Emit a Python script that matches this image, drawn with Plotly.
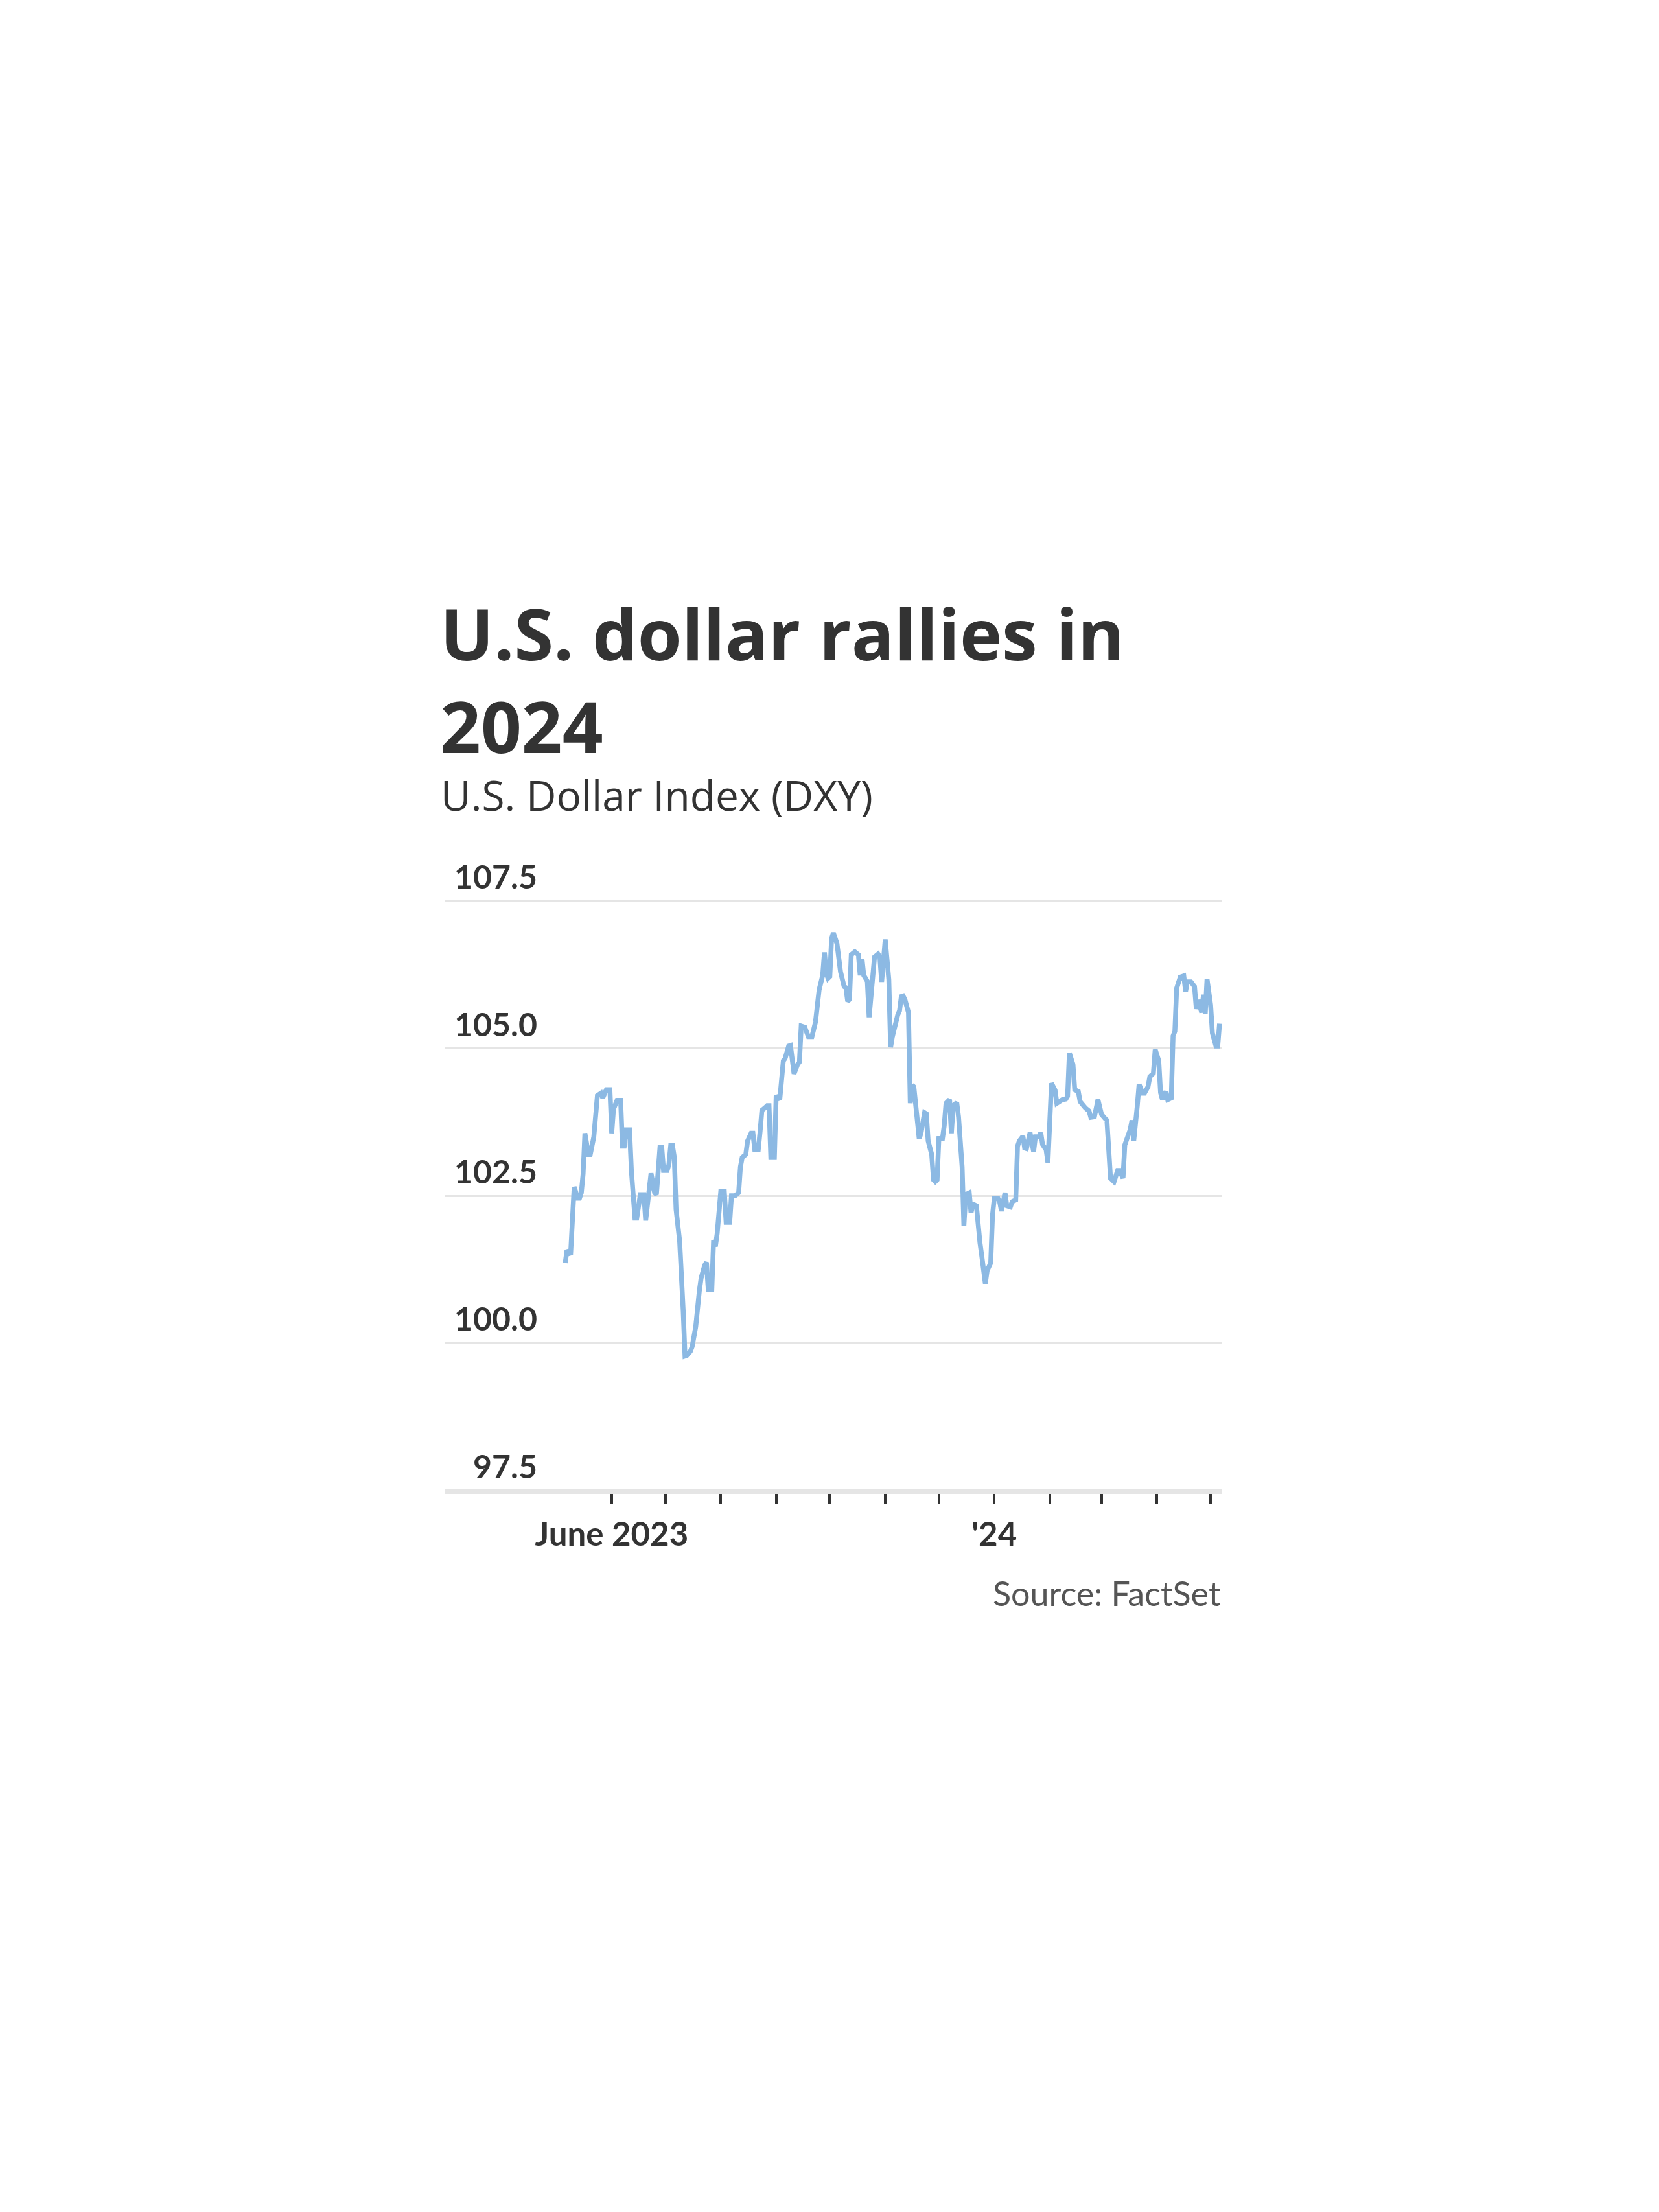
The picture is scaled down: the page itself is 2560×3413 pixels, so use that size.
import plotly.graph_objects as go

# ---- data ----
dates = [
    "2023-05-06", "2023-05-07", "2023-05-09", "2023-05-11", "2023-05-13", "2023-05-14",
    "2023-05-15", "2023-05-16", "2023-05-17", "2023-05-19", "2023-05-20", "2023-05-22",
    "2023-05-24", "2023-05-26", "2023-05-27", "2023-05-29", "2023-05-31", "2023-06-01",
    "2023-06-02", "2023-06-04", "2023-06-06", "2023-06-07", "2023-06-08", "2023-06-09",
    "2023-06-11", "2023-06-12", "2023-06-14", "2023-06-15", "2023-06-17", "2023-06-19",
    "2023-06-20", "2023-06-22", "2023-06-23", "2023-06-25", "2023-06-26", "2023-06-28",
    "2023-06-29", "2023-06-30", "2023-07-02", "2023-07-03", "2023-07-04", "2023-07-05",
    "2023-07-06", "2023-07-07", "2023-07-09", "2023-07-11", "2023-07-12", "2023-07-13",
    "2023-07-15", "2023-07-16", "2023-07-18", "2023-07-20", "2023-07-21", "2023-07-23",
    "2023-07-24", "2023-07-25", "2023-07-27", "2023-07-28", "2023-07-29", "2023-07-30",
    "2023-07-31", "2023-08-01", "2023-08-03", "2023-08-04", "2023-08-06", "2023-08-07",
    "2023-08-09", "2023-08-11", "2023-08-12", "2023-08-13", "2023-08-15", "2023-08-16",
    "2023-08-18", "2023-08-19", "2023-08-20", "2023-08-22", "2023-08-23", "2023-08-24",
    "2023-08-26", "2023-08-27", "2023-08-28", "2023-08-29", "2023-08-31", "2023-09-01",
    "2023-09-03", "2023-09-05", "2023-09-06", "2023-09-08", "2023-09-09", "2023-09-11",
    "2023-09-13", "2023-09-14", "2023-09-15", "2023-09-17", "2023-09-19", "2023-09-21",
    "2023-09-23", "2023-09-25", "2023-09-27", "2023-09-28", "2023-09-29", "2023-09-30",
    "2023-10-01", "2023-10-02", "2023-10-03", "2023-10-05", "2023-10-07", "2023-10-09",
    "2023-10-10", "2023-10-11", "2023-10-12", "2023-10-13", "2023-10-15", "2023-10-17",
    "2023-10-18", "2023-10-19", "2023-10-20", "2023-10-22", "2023-10-23", "2023-10-25",
    "2023-10-26", "2023-10-28", "2023-10-29", "2023-10-30", "2023-10-31", "2023-11-01",
    "2023-11-03", "2023-11-04", "2023-11-05", "2023-11-07", "2023-11-08", "2023-11-09",
    "2023-11-10", "2023-11-11", "2023-11-12", "2023-11-14", "2023-11-15", "2023-11-16",
    "2023-11-17", "2023-11-20", "2023-11-21", "2023-11-23", "2023-11-24", "2023-11-25",
    "2023-11-27", "2023-11-28", "2023-11-29", "2023-11-30", "2023-12-01", "2023-12-03",
    "2023-12-04", "2023-12-05", "2023-12-07", "2023-12-08", "2023-12-09", "2023-12-11",
    "2023-12-12", "2023-12-14", "2023-12-15", "2023-12-16", "2023-12-18", "2023-12-19",
    "2023-12-20", "2023-12-22", "2023-12-23", "2023-12-24", "2023-12-25", "2023-12-27",
    "2023-12-28", "2023-12-29", "2023-12-30", "2023-12-31", "2024-01-01", "2024-01-03",
    "2024-01-04", "2024-01-05", "2024-01-07", "2024-01-08", "2024-01-10", "2024-01-11",
    "2024-01-13", "2024-01-14", "2024-01-15", "2024-01-17", "2024-01-18", "2024-01-19",
    "2024-01-21", "2024-01-23", "2024-01-24", "2024-01-26", "2024-01-27", "2024-01-28",
    "2024-01-30", "2024-01-31", "2024-02-01", "2024-02-02", "2024-02-04", "2024-02-05",
    "2024-02-08", "2024-02-10", "2024-02-11", "2024-02-12", "2024-02-14", "2024-02-15",
    "2024-02-17", "2024-02-18", "2024-02-21", "2024-02-23", "2024-02-24", "2024-02-26",
    "2024-02-28", "2024-03-01", "2024-03-03", "2024-03-04", "2024-03-06", "2024-03-08",
    "2024-03-10", "2024-03-11", "2024-03-13", "2024-03-14", "2024-03-15", "2024-03-17",
    "2024-03-18", "2024-03-19", "2024-03-21", "2024-03-22", "2024-03-24", "2024-03-25",
    "2024-03-27", "2024-03-28", "2024-03-30", "2024-03-31", "2024-04-02", "2024-04-03",
    "2024-04-04", "2024-04-06", "2024-04-07", "2024-04-09", "2024-04-10", "2024-04-11",
    "2024-04-12", "2024-04-14", "2024-04-16", "2024-04-17", "2024-04-18", "2024-04-20",
    "2024-04-22", "2024-04-23", "2024-04-24", "2024-04-26", "2024-04-27", "2024-04-28",
    "2024-04-29", "2024-05-01", "2024-05-02", "2024-05-04", "2024-05-05", "2024-05-06",
]

dxy = [
    101.36, 101.58, 101.50, 102.65, 102.46, 102.46,
    102.55, 102.87, 103.56, 103.20, 103.20, 103.50,
    104.20, 104.24, 104.16, 104.30, 104.30, 103.56,
    103.97, 104.12, 104.12, 103.34, 103.34, 103.62,
    103.62, 102.93, 102.12, 102.12, 102.52, 102.52,
    102.08, 102.52, 102.88, 102.55, 102.52, 103.32,
    103.32, 102.93, 102.93, 103.03, 103.35, 103.35,
    103.16, 102.27, 101.73, 100.54, 99.78, 99.79,
    99.86, 99.94, 100.28, 100.88, 101.10, 101.32,
    101.37, 100.91, 100.91, 101.75, 101.64, 101.86,
    102.27, 102.57, 102.57, 102.05, 102.05, 102.50,
    102.50, 102.55, 102.99, 103.15, 103.20, 103.43,
    103.56, 103.56, 103.29, 103.29, 103.59, 103.95,
    104.00, 104.03, 104.03, 103.15, 103.15, 104.20,
    104.13, 104.79, 104.83, 105.04, 105.05, 104.57,
    104.73, 104.77, 105.38, 105.36, 105.20, 105.20,
    105.45, 105.99, 106.24, 106.63, 106.27, 106.19,
    106.22, 106.87, 106.96, 106.78, 106.30, 106.05,
    106.03, 105.80, 105.83, 106.59, 106.64, 106.59,
    106.24, 106.52, 106.24, 106.14, 105.53, 106.33,
    106.55, 106.60, 106.55, 106.13, 106.62, 106.85,
    106.17, 105.02, 105.20, 105.51, 105.57, 105.64,
    105.88, 105.89, 105.83, 105.61, 104.07, 104.38,
    104.35, 103.47, 103.56, 103.91, 103.89, 103.43,
    103.20, 102.77, 102.74, 102.77, 103.47, 103.47,
    103.69, 104.07, 104.13, 103.56, 104.03, 104.08,
    103.84, 102.99, 101.99, 102.52, 102.55, 102.21,
    102.36, 102.33, 101.86, 101.70, 101.48, 101.01,
    101.23, 101.29, 101.36, 102.17, 102.46, 102.46,
    102.40, 102.24, 102.55, 102.33, 102.31, 102.40,
    102.43, 103.34, 103.43, 103.51, 103.31, 103.30,
    103.57, 103.25, 103.50, 103.50, 103.57, 103.37,
    103.28, 103.06, 103.94, 104.41, 104.29, 104.07,
    104.13, 104.14, 104.19, 104.92, 104.73, 104.30,
    104.27, 104.10, 103.99, 103.94, 103.83, 103.84,
    104.13, 103.88, 103.81, 103.78, 102.80, 102.74,
    102.93, 102.93, 102.80, 103.36, 103.45, 103.62,
    103.78, 103.43, 104.03, 104.39, 104.24, 104.24,
    104.35, 104.52, 104.58, 104.98, 104.79, 104.25,
    104.14, 104.27, 104.13, 104.16, 105.21, 105.29,
    106.02, 106.21, 106.23, 105.97, 106.13, 106.13,
    106.05, 105.67, 105.82, 105.61, 105.91, 105.59,
    106.18, 105.74, 105.26, 105.04, 105.04, 105.42,
]

y_ticks = [97.5, 100.0, 102.5, 105.0, 107.5]
y_tick_labels = ["97.5", "100.0", "102.5", "105.0", "107.5"]

x_ticks = ["2023-06-01", "2023-07-01", "2023-08-01", "2023-09-01", "2023-10-01",
           "2023-11-01", "2023-12-01", "2024-01-01", "2024-02-01", "2024-03-01",
           "2024-04-01", "2024-05-01"]
x_tick_labels = ["June 2023", "", "", "", "", "", "", "'24", "", "", "", ""]
year_tick = ["2024-01-01"]

title_text = "U.S. dollar rallies in<br>2024"
subtitle_text = "U.S. Dollar Index (DXY)"
source_text = "Source: FactSet"

# ---- style ----
W, H = 2560, 3413
L, R = 678, 1878          # plot area left/right (px)
T, B = 1381, 2293         # plot area top/bottom (px)
FONT = "Lato"
HEAD_FONT = "Open Sans"
DARK = "#333333"
GRID = "#e5e5e5"
LINE = "#8cb9e3"
x_range = ["2023-02-27 12:00", "2024-05-07 12:00"]
y_range = [97.485, 107.515]

fig = go.Figure()
fig.add_trace(go.Scatter(
    x=dates, y=dxy, mode="lines",
    line=dict(color=LINE, width=7.5),
    showlegend=False, hoverinfo="x+y",
))

fig.update_layout(
    width=W, height=H,
    margin=dict(l=L, r=W - R, t=T, b=H - B, pad=0),
    paper_bgcolor="white", plot_bgcolor="white",
    font=dict(family=FONT, color=DARK),
    xaxis=dict(
        type="date", range=x_range,
        tickvals=x_ticks, ticktext=x_tick_labels,
        ticks="outside", ticklen=15, tickwidth=4, tickcolor=DARK,
        tickfont=dict(family=FONT, size=51, color=DARK, weight=700),
        showgrid=False, zeroline=False,
        showline=True, linecolor=GRID, linewidth=4,
        ticklabelstandoff=4,
    ),
    xaxis2=dict(
        type="date", range=x_range, overlaying="x", anchor="y",
        tickvals=year_tick, ticks="outside", ticklen=25, tickwidth=4, tickcolor=DARK,
        showticklabels=False, showgrid=False, zeroline=False, showline=False,
    ),
    yaxis=dict(
        range=y_range, tickvals=y_ticks, showticklabels=False,
        showgrid=True, gridcolor=GRID, gridwidth=3.3,
        zeroline=False, showline=False, ticks="",
    ),
)

annotations = []
# two-line title above the plot area
annotations.append(dict(
    text=title_text, xref="paper", x=0, xanchor="left", align="left", xshift=-9,
    yref="paper", y=1, yanchor="bottom", yshift=T - 1188,
    showarrow=False, font=dict(family=HEAD_FONT, size=110, color=DARK, weight=700),
))
annotations.append(dict(
    text=subtitle_text, xref="paper", x=0, xanchor="left", xshift=-8,
    yref="paper", y=1, yanchor="bottom", yshift=T - 1264,
    showarrow=False, font=dict(family=HEAD_FONT, size=64, color=DARK, weight=400),
))
for v, lab in zip(y_ticks, y_tick_labels):
    annotations.append(dict(
        text=lab, xref="paper", x=(823 - L) / (R - L), xanchor="right",
        yref="y", y=v, yanchor="bottom", yshift=6,
        showarrow=False, font=dict(family=FONT, size=50, color=DARK, weight=700),
    ))
annotations.append(dict(
    text=source_text, xref="paper", x=1, xanchor="right",
    yref="paper", y=0, yanchor="top", yshift=-124,
    showarrow=False, font=dict(family=FONT, size=52, color="#555555", weight=400),
))
fig.update_layout(annotations=annotations)

fig.write_html("out.html")
